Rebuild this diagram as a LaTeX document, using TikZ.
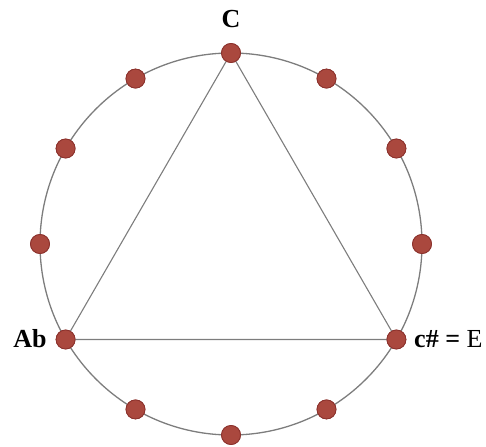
\documentclass[tikz,border=0pt]{standalone}
\usepackage{fontspec}
\setmainfont{Liberation Serif}
\usetikzlibrary{calc}
\definecolor{dotfill}{RGB}{170,72,62}
\definecolor{dotedge}{RGB}{140,50,45}
\definecolor{linegray}{RGB}{125,125,125}
\begin{document}
\begin{tikzpicture}[x=1pt,y=-1pt,
  dotstyle/.style={circle,fill=dotfill,draw=dotedge,line width=0.8pt,minimum size=19pt,inner sep=0pt},
  lbl/.style={font=\fontsize{26}{28}\selectfont\bfseries,inner sep=0pt}]
\useasboundingbox (0,0) rectangle (486,446);
\coordinate (O) at (231,244);
\draw[linegray,line width=1.3pt] (O) circle (191);
\foreach \i in {0,...,11}{
  \node[dotstyle] (d\i) at ($(O)+({191*sin(30*\i)},{-191*cos(30*\i)})$) {};
}
\draw[linegray,line width=1.1pt] (d0.center) -- (d4.center) -- (d8.center) -- cycle;
\foreach \i in {0,...,11}{
  \node[dotstyle] at (d\i) {};
}
\node[lbl] (lc) at (231,19) {C};
\node[lbl] (lab) at (30,339) {Ab};
\node[lbl,anchor=west] (le) at (414,339) {c\# = {\mdseries E}};
\end{tikzpicture}
\end{document}
